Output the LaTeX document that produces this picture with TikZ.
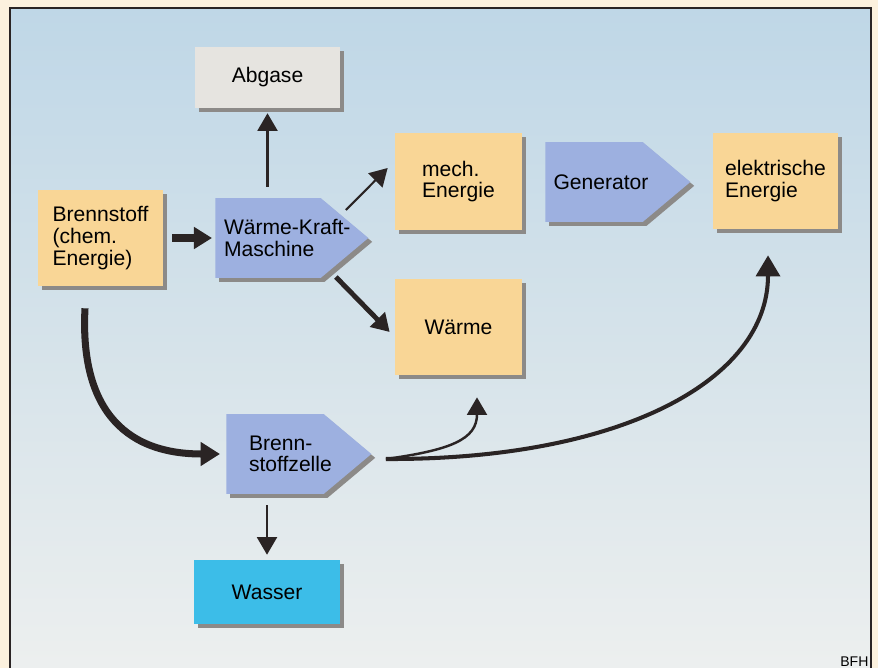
\documentclass[tikz,border=0pt]{standalone}
\usepackage{fontspec}
\setmainfont{Liberation Sans}
\usetikzlibrary{calc,positioning,arrows.meta,shapes.symbols,shadows}
\definecolor{ebOrange}{HTML}{F9D696}
\definecolor{ebBlue}{HTML}{9DB0E0}
\definecolor{ebGray}{HTML}{E6E4E0}
\definecolor{ebCyan}{HTML}{3CBDE8}
\definecolor{ebShadow}{HTML}{8C8A88}
\definecolor{ebSkyT}{HTML}{BFD7E7}
\definecolor{ebSkyM}{HTML}{D6E3EA}
\definecolor{ebSkyB}{HTML}{EEF0EF}
\definecolor{ebPaper}{HTML}{FCF1DE}
\definecolor{ebInk}{HTML}{2A2424}

\begin{document}
\begin{tikzpicture}[x=0.02cm,y=-0.02cm,
  cbox/.style={rectangle,font=\fontsize{12}{12.3}\selectfont,align=left,text=black,
               drop shadow={shadow xshift=2.2pt,shadow yshift=-2.2pt,fill=ebShadow,opacity=1}},
  ebox/.style={cbox,fill=ebOrange,minimum width=2.5cm,minimum height=1.92cm},
  mbox/.style={cbox,shape=signal,signal to=east,signal pointer angle=80,
               fill=ebBlue,minimum height=1.6cm,anchor=west},
  tarr/.style={ebInk,line width=1.4pt,-{Triangle[width=11.3pt,length=10pt]}},
  marr/.style={ebInk,line width=2.8pt,-{Triangle[width=11.5pt,length=10pt]}},
  barr/.style={ebInk,line width=4.3pt,-{Triangle[width=12pt,length=10.3pt]}},
  earr/.style={ebInk,line width=2.3pt,-{Triangle[width=13.6pt,length=12pt]}}]

\useasboundingbox (0,0) rectangle (878,668);

%% paper + frame
\fill[ebPaper] (0,0) rectangle (878,668);
\shade[top color=ebSkyT,bottom color=ebSkyB,middle color=ebSkyM,draw=ebInk,line width=0.8pt]
  (10,8) rectangle (871,690);

%% boxes
\node[cbox,fill=ebGray,minimum width=2.9cm,minimum height=1.22cm] (abg) at (267.5,77.5) {Abgase};
\node[ebox] (bst) at (100.5,238) {Brennstoff\\(chem.\\Energie)};
\node[mbox,minimum width=3.06cm,text width=1.76cm] (wkm) at (215,238) {\mbox{Wärme-Kraft-}\\Maschine};
\node[ebox,minimum width=2.54cm,minimum height=1.94cm] (mech) at (458.5,181.5) {mech.\\Energie};
\node[mbox,minimum width=2.9cm,text width=1.62cm] (gen) at (545,182) {\mbox{Generator}};
\node[ebox] (elek) at (775.5,181) {elektrische\\Energie};
\node[ebox,minimum width=2.54cm] (waer) at (458.5,327) {Wärme};
\node[mbox,minimum width=2.9cm,text width=1.04cm] (bzl) at (226,454) {\mbox{Brenn-}\\\mbox{stoffzelle}};
\node[cbox,fill=ebCyan,minimum width=2.92cm,minimum height=1.28cm] (wass) at (267,592) {Wasser};

\node[font=\fontsize{8}{8}\selectfont,anchor=base west,inner sep=0pt] (bfh) at (840,666) {BFH};

%% Waerme-Kraft-Maschine
\draw[barr,shorten <=5pt,shorten >=1.7pt] (bst.east) -- (wkm.west);
\draw[tarr,shorten <=6.2pt,shorten >=2.8pt] (abg.south |- wkm.north) -- (abg.south);
\draw[tarr,line width=1.2pt] ([xshift=-0.46cm,yshift=0.56cm]wkm.east) -- ([xshift=-0.14cm,yshift=0.27cm]mech.west);
\draw[marr] ([xshift=-0.66cm,yshift=-0.78cm]wkm.east) -- ([xshift=-0.1cm,yshift=-0.1cm]waer.west);

%% Brennstoffzelle
\draw[barr,line width=4pt,-{Triangle[width=13pt,length=11pt]}]
  ([xshift=-0.31cm,yshift=-0.44cm]bst.south) .. controls +(-5,95) and +(-100,0) .. ([xshift=-0.12cm]bzl.west);
\draw[tarr,shorten <=6.2pt,shorten >=2.8pt] (wass.north |- bzl.south) -- (wass.north);

\coordinate (split) at ([xshift=0.28cm,yshift=-0.1cm]bzl.east);
\draw[earr] (split) .. controls +(235,1) and +(0,125) .. ([xshift=-0.15cm,yshift=-0.52cm]elek.south);
\draw[tarr] (split) .. controls +(65,-9) and +(0,42) .. ([xshift=0.37cm,yshift=-0.44cm]waer.south);
\end{tikzpicture}
\end{document}
